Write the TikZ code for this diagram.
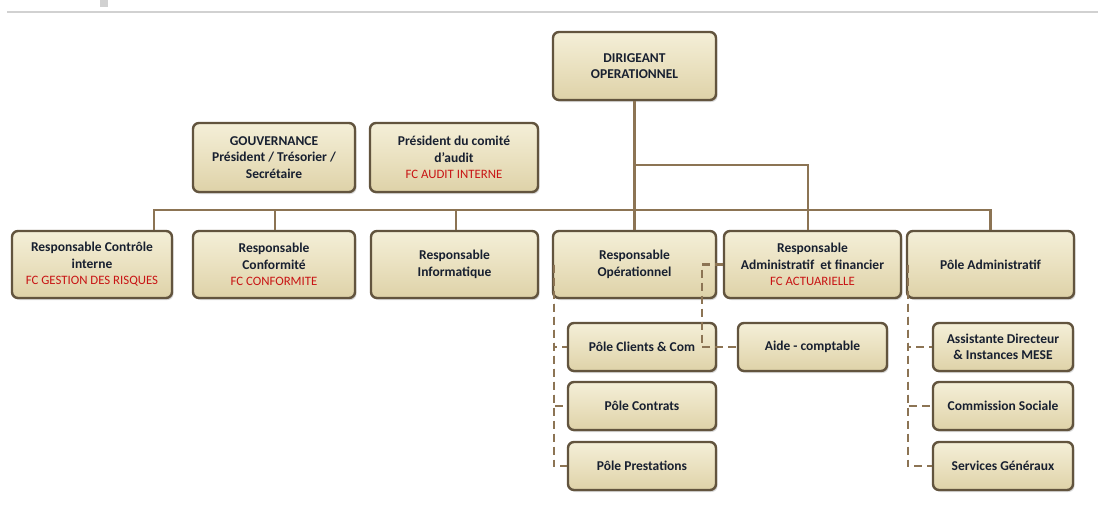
\documentclass[tikz,border=0pt]{standalone}
\usepackage{fontspec}
\setmainfont{Carlito}
\usetikzlibrary{shadows}
\definecolor{boxfill}{RGB}{234,225,192}
\definecolor{boxtop}{RGB}{244,239,216}
\definecolor{boxbot}{RGB}{222,210,168}
\definecolor{boxline}{RGB}{98,84,62}
\definecolor{conncol}{RGB}{140,116,84}
\definecolor{txt}{RGB}{24,32,48}
\definecolor{fcred}{RGB}{200,20,20}
\tikzset{
  box/.style={draw=boxline, line width=2.4pt, rounded corners=6pt,
    top color=boxtop, bottom color=boxbot, middle color=boxfill,
    drop shadow={shadow xshift=1.5pt, shadow yshift=-2pt, opacity=0.3},
    align=center, text=txt, font=\fontsize{13.5}{16.5}\selectfont\bfseries,
    inner sep=2pt},
  conn/.style={draw=conncol, line width=2.4pt},
  dconn/.style={draw=conncol, line width=2.6pt, dash pattern=on 8pt off 5pt},
}
\newcommand{\fc}[1]{{\color{fcred}\mdseries\fontsize{12.8}{16.5}\selectfont #1}}
\begin{document}
\begin{tikzpicture}[x=1pt,y=-1pt]
\useasboundingbox (0,0) rectangle (1098,511);
\fill[white] (0,0) rectangle (1098,511);
\fill[black!18] (100,0) rectangle (108,7);
\draw[black!18, line width=1.2pt] (7,12) -- (1098,12);

\node[box, minimum width=163pt, minimum height=68pt] (dir) at (634.5,66) {DIRIGEANT\\OPERATIONNEL};
\node[box, minimum width=162pt, minimum height=69pt] (gouv) at (274,157.5) {GOUVERNANCE\\Président / Trésorier /\\Secrétaire};
\node[box, minimum width=168pt, minimum height=69pt] (pres) at (454,157.5) {Président du comité\\d'audit\\\fc{FC AUDIT INTERNE}};

\node[box, minimum width=160pt, minimum height=67pt] (c1) at (92,264.5) {Responsable Contrôle\\interne\\\fc{FC GESTION DES RISQUES}};
\node[box, minimum width=162pt, minimum height=67pt] (c2) at (274,264.5) {Responsable\\Conformité\\\fc{FC CONFORMITE}};
\node[box, minimum width=167pt, minimum height=67pt] (c3) at (454.5,264.5) {Responsable\\Informatique};
\node[box, minimum width=163pt, minimum height=67pt] (c4) at (634.5,264.5) {Responsable\\Opérationnel};
\node[box, minimum width=177pt, minimum height=67pt] (c5) at (812.5,264.5) {Responsable\\Administratif~ et financier\\\fc{FC ACTUARIELLE}};
\node[box, minimum width=167pt, minimum height=67pt] (c6) at (990.5,264.5) {Pôle Administratif};

\node[box, minimum width=148pt, minimum height=48pt] (clients) at (642,347) {Pôle Clients \& Com};
\node[box, minimum width=148pt, minimum height=48pt] (contrats) at (642,406) {Pôle Contrats};
\node[box, minimum width=148pt, minimum height=48pt] (prest) at (642,466) {Pôle Prestations};
\node[box, minimum width=149pt, minimum height=48pt] (aide) at (812.5,347) {Aide - comptable};

\node[box, minimum width=140pt, minimum height=48pt] (assist) at (1003,347) {Assistante Directeur\\\& Instances MESE};
\node[box, minimum width=140pt, minimum height=48pt] (comm) at (1003,406) {Commission Sociale};
\node[box, minimum width=140pt, minimum height=48pt] (serv) at (1003,466) {Services Généraux};

% solid connectors
\draw[conn] (dir.south) -- (c4.north);
\draw[conn] ([xshift=62pt]c1.north) -- ++(0,-20) -| (c6.north);
\draw[conn] ([xshift=1pt]c2.north) -- ++(0,-20);
\draw[conn] ([xshift=1.5pt]c3.north) -- ++(0,-20);
\draw[conn] (dir.south) ++(0,64) -| ([xshift=-4.5pt]c5.north);

% dashed connectors
\draw[dconn] ([xshift=2pt]c4.west) |- (clients.west);
\draw[dconn] ([xshift=2pt]c4.west) |- (contrats.west);
\draw[dconn] ([xshift=2pt]c4.west) |- (prest.west);
\draw[dconn] (c5.west) -- ++(-21,0) |- (aide.west);
\draw[dconn] ([xshift=2pt]c6.west) |- (assist.west);
\draw[dconn] ([xshift=2pt]c6.west) |- (comm.west);
\draw[dconn] ([xshift=2pt]c6.west) |- (serv.west);
\end{tikzpicture}
\end{document}
